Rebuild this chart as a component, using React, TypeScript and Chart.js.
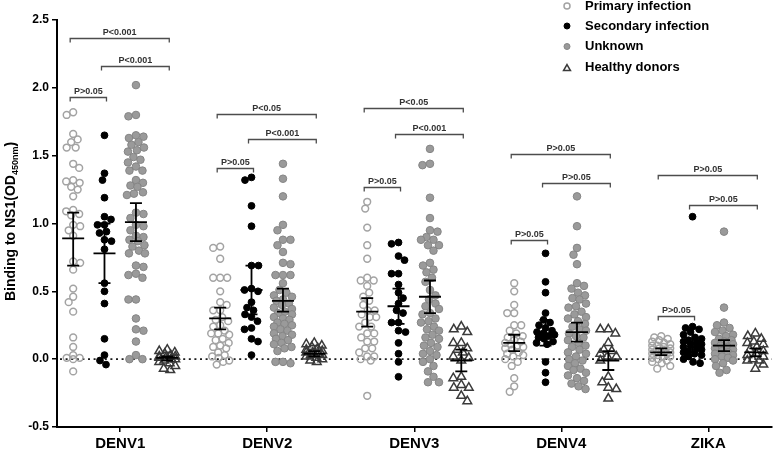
import React, { useEffect, useRef } from 'react';
import { Chart, registerables } from 'chart.js';

Chart.register(...registerables);

const FONT = '"Liberation Sans", Arial, Helvetica, sans-serif';

const categories = ['DENV1', 'DENV2', 'DENV3', 'DENV4', 'ZIKA'];
const seriesLabels = ['Primary infection', 'Secondary infection', 'Unknown', 'Healthy donors'];
const yTickValues = [-0.5, 0, 0.5, 1, 1.5, 2, 2.5];

// ---- individual values ----
const primaryDENV1 = [1.82, 1.8, 1.66, 1.62, 1.6, 1.56, 1.56, 1.44, 1.41, 1.32, 1.31, 1.3, 1.27, 1.25, 1.2, 1.1, 1.09, 1.07, 1.06, 0.99, 0.98, 0.95, 0.91, 0.72, 0.71, 0.66, 0.52, 0.46, 0.42, 0.35, 0.16, 0.09, 0.03, 0.01, 0.01, 0.0, -0.09];
const primaryDENV2 = [0.83, 0.82, 0.74, 0.6, 0.6, 0.6, 0.5, 0.42, 0.4, 0.36, 0.36, 0.31, 0.29, 0.28, 0.25, 0.24, 0.21, 0.19, 0.19, 0.18, 0.15, 0.14, 0.12, 0.1, 0.09, 0.08, 0.05, 0.03, 0.02, 0.01, -0.01, -0.02, -0.04];
const primaryDENV3 = [1.16, 1.11, 0.97, 0.84, 0.74, 0.6, 0.58, 0.58, 0.54, 0.49, 0.46, 0.43, 0.4, 0.36, 0.36, 0.33, 0.31, 0.31, 0.27, 0.24, 0.24, 0.19, 0.19, 0.16, 0.13, 0.13, 0.08, 0.08, 0.05, 0.02, 0.02, 0.0, -0.01, -0.27];
const primaryDENV4 = [0.56, 0.5, 0.4, 0.34, 0.34, 0.25, 0.25, 0.21, 0.19, 0.17, 0.16, 0.14, 0.13, 0.12, 0.11, 0.1, 0.09, 0.08, 0.07, 0.05, 0.04, 0.03, 0.02, 0.0, -0.02, -0.05, -0.14, -0.2, -0.24];
const primaryZIKA = [0.17, 0.16, 0.15, 0.14, 0.13, 0.12, 0.11, 0.1, 0.1, 0.09, 0.08, 0.08, 0.07, 0.06, 0.06, 0.05, 0.05, 0.04, 0.04, 0.03, 0.02, 0.02, 0.01, 0.0, -0.01, -0.02, -0.03, -0.05, -0.07];

const secondaryDENV1 = [1.65, 1.37, 1.32, 1.19, 1.05, 1.03, 0.99, 0.99, 0.94, 0.93, 0.88, 0.87, 0.81, 0.56, 0.5, 0.41, 0.15, 0.03, -0.01, -0.04];
const secondaryDENV2 = [1.34, 1.32, 1.13, 0.98, 0.69, 0.69, 0.52, 0.51, 0.5, 0.42, 0.38, 0.36, 0.33, 0.31, 0.28, 0.23, 0.22, 0.15, 0.13, 0.03];
const secondaryDENV3 = [0.86, 0.85, 0.76, 0.73, 0.63, 0.63, 0.55, 0.49, 0.45, 0.41, 0.36, 0.34, 0.27, 0.27, 0.21, 0.2, 0.12, 0.04, -0.02, -0.13];
const secondaryDENV4 = [0.78, 0.57, 0.49, 0.34, 0.29, 0.27, 0.25, 0.23, 0.21, 0.2, 0.19, 0.18, 0.17, 0.16, 0.15, 0.13, 0.12, 0.11, -0.02, -0.1, -0.17];
const secondaryZIKA = [1.05, 0.24, 0.23, 0.22, 0.2, 0.18, 0.16, 0.15, 0.14, 0.13, 0.12, 0.11, 0.1, 0.09, 0.08, 0.07, 0.06, 0.05, 0.04, 0.03, 0.02, 0.0, -0.02, -0.03];

const unknownDENV1 = [2.02, 1.8, 1.79, 1.65, 1.64, 1.63, 1.6, 1.58, 1.56, 1.54, 1.53, 1.49, 1.47, 1.45, 1.42, 1.39, 1.39, 1.32, 1.3, 1.28, 1.27, 1.23, 1.22, 1.21, 1.08, 1.07, 1.04, 0.99, 0.98, 0.95, 0.91, 0.9, 0.88, 0.87, 0.84, 0.83, 0.8, 0.78, 0.78, 0.69, 0.68, 0.63, 0.62, 0.6, 0.44, 0.44, 0.3, 0.22, 0.21, 0.13, 0.03, 0.0, 0.0];
const unknownDENV2 = [1.44, 1.33, 1.2, 0.99, 0.95, 0.88, 0.88, 0.84, 0.79, 0.71, 0.7, 0.62, 0.62, 0.62, 0.56, 0.51, 0.49, 0.47, 0.46, 0.44, 0.43, 0.41, 0.4, 0.38, 0.37, 0.35, 0.34, 0.33, 0.31, 0.3, 0.29, 0.27, 0.26, 0.25, 0.24, 0.22, 0.21, 0.19, 0.18, 0.17, 0.15, 0.14, 0.12, 0.11, 0.09, 0.08, 0.06, -0.02, -0.03, -0.02];
const unknownDENV3 = [1.55, 1.44, 1.43, 1.19, 1.04, 0.95, 0.94, 0.9, 0.88, 0.88, 0.84, 0.84, 0.8, 0.71, 0.69, 0.66, 0.64, 0.6, 0.57, 0.51, 0.47, 0.44, 0.41, 0.39, 0.37, 0.34, 0.33, 0.3, 0.28, 0.27, 0.24, 0.22, 0.21, 0.18, 0.16, 0.15, 0.12, 0.1, 0.09, 0.06, 0.04, 0.03, 0.0, -0.02, -0.05, -0.09, -0.13, -0.17, -0.17];
const unknownDENV4 = [1.2, 0.98, 0.82, 0.77, 0.7, 0.56, 0.54, 0.52, 0.49, 0.47, 0.45, 0.44, 0.41, 0.39, 0.38, 0.35, 0.33, 0.31, 0.3, 0.28, 0.26, 0.24, 0.22, 0.21, 0.19, 0.17, 0.16, 0.14, 0.12, 0.1, 0.09, 0.07, 0.05, 0.04, 0.02, 0.0, -0.01, -0.03, -0.05, -0.07, -0.08, -0.1, -0.12, -0.14, -0.16, -0.18, -0.2, -0.22];
const unknownZIKA = [0.94, 0.38, 0.27, 0.25, 0.23, 0.21, 0.2, 0.18, 0.17, 0.15, 0.14, 0.13, 0.12, 0.11, 0.1, 0.09, 0.08, 0.07, 0.06, 0.05, 0.04, 0.03, 0.02, 0.01, 0.0, -0.01, -0.03, -0.05, -0.08, -0.1];

const healthyDENV1 = [0.07, 0.06, 0.05, 0.04, 0.03, 0.02, 0.02, 0.01, 0.01, 0.0, 0.0, -0.01, -0.02, -0.03, -0.05, -0.07, -0.08];
const healthyDENV2 = [0.12, 0.11, 0.1, 0.09, 0.08, 0.07, 0.06, 0.05, 0.05, 0.04, 0.03, 0.03, 0.02, 0.01, 0.0, -0.01, -0.02];
const healthyDENV3 = [0.24, 0.22, 0.2, 0.12, 0.12, 0.08, 0.07, 0.05, 0.02, 0.01, -0.01, -0.13, -0.14, -0.19, -0.21, -0.21, -0.27, -0.31];
const healthyDENV4 = [0.22, 0.22, 0.19, 0.12, 0.07, 0.06, 0.04, 0.02, 0.02, -0.01, -0.13, -0.17, -0.21, -0.22, -0.29];
const healthyZIKA = [0.19, 0.17, 0.15, 0.13, 0.12, 0.11, 0.09, 0.07, 0.06, 0.04, 0.03, 0.02, 0.0, -0.01, -0.01, -0.04, -0.07];

// ---- mean and error bar limits per category ----
const primaryMean = [0.89, 0.3, 0.35, 0.12, 0.05];
const primaryLow = [0.69, 0.22, 0.24, 0.06, 0.03];
const primaryHigh = [1.08, 0.38, 0.45, 0.18, 0.08];
const secondaryMean = [0.78, 0.51, 0.39, 0.19, 0.12];
const secondaryLow = [0.56, 0.33, 0.26, 0.1, 0.05];
const secondaryHigh = [1.0, 0.69, 0.52, 0.29, 0.23];
const unknownMean = [1.01, 0.43, 0.46, 0.2, 0.1];
const unknownLow = [0.87, 0.35, 0.34, 0.13, 0.06];
const unknownHigh = [1.15, 0.52, 0.58, 0.27, 0.14];
const healthyMean = [0.01, 0.04, -0.01, -0.01, 0.05];
const healthyLow = [-0.01, 0.02, -0.09, -0.08, 0.02];
const healthyHigh = [0.02, 0.06, 0.07, 0.06, 0.08];

// ---- significance brackets ----
const bracketLowY = [1.93, 1.41, 1.27, 0.88, 0.32];
const bracketMidY = [2.16, 1.62, 1.66, 1.3, 1.14];
const bracketTopY = [2.37, 1.81, 1.85, 1.51, 1.36];
const bracketLowLabel = ['P>0.05', 'P>0.05', 'P>0.05', 'P>0.05', 'P>0.05'];
const bracketMidLabel = ['P<0.001', 'P<0.001', 'P<0.001', 'P>0.05', 'P>0.05'];
const bracketTopLabel = ['P<0.001', 'P<0.05', 'P<0.05', 'P>0.05', 'P>0.05'];

const seriesValues = [
  [primaryDENV1, primaryDENV2, primaryDENV3, primaryDENV4, primaryZIKA],
  [secondaryDENV1, secondaryDENV2, secondaryDENV3, secondaryDENV4, secondaryZIKA],
  [unknownDENV1, unknownDENV2, unknownDENV3, unknownDENV4, unknownZIKA],
  [healthyDENV1, healthyDENV2, healthyDENV3, healthyDENV4, healthyZIKA],
];
const seriesMean = [primaryMean, secondaryMean, unknownMean, healthyMean];
const seriesLow = [primaryLow, secondaryLow, unknownLow, healthyLow];
const seriesHigh = [primaryHigh, secondaryHigh, unknownHigh, healthyHigh];

// ---- styles / layout ----
const seriesOffset = [-0.32, -0.107, 0.107, 0.32];
const swarmDiameter = [7, 7, 7.5, 8];
const swarmHalfWidth = [9, 9, 9, 8];
const seriesStyle = [
  { pointStyle: 'circle', radius: 3.4, bg: 'rgba(255,255,255,0)', border: '#a3a3a3', bw: 1.5 },
  { pointStyle: 'circle', radius: 3.4, bg: '#000000', border: '#000000', bw: 1 },
  { pointStyle: 'circle', radius: 3.8, bg: '#9a9a9a', border: '#858585', bw: 1 },
  { pointStyle: 'triangle', radius: 5, bg: 'rgba(255,255,255,0)', border: '#3a3a3a', bw: 1.5 },
];

// deterministic beeswarm: nearest free slot to the centre, overlapping when the band is full
function swarmOffsets(py: number[], D: number, maxHalf: number): number[] {
  const idx = py.map((_, i) => i).sort((a, b) => py[a] - py[b]);
  const px: number[] = [];
  const pyPlaced: number[] = [];
  const out: number[] = new Array(py.length).fill(0);
  let flip = 1;
  for (const i of idx) {
    const y = py[i];
    let best = 0;
    let bestCost = Infinity;
    for (let c = -maxHalf; c <= maxHalf + 1e-9; c += 0.5) {
      let cost = 0;
      for (let k = 0; k < px.length; k++) {
        const dy = pyPlaced[k] - y;
        if (Math.abs(dy) >= D) continue;
        const dx = c - px[k];
        const dist = Math.sqrt(dx * dx + dy * dy);
        if (dist < D) cost += (D - dist) * (D - dist);
      }
      cost += 0.002 * Math.abs(c) + 1e-5 * c * flip;
      if (cost < bestCost) {
        bestCost = cost;
        best = c;
      }
    }
    if (best !== 0) flip = -flip;
    out[i] = best;
    px.push(best);
    pyPlaced.push(y);
  }
  return out;
}

function drawMarker(ctx: CanvasRenderingContext2D, style: string, x: number, y: number, r: number, bg: string, border: string, bw: number) {
  ctx.save();
  ctx.beginPath();
  if (style === 'triangle') {
    for (let k = 0; k < 3; k++) {
      const a = (k * 2 * Math.PI) / 3;
      const vx = x + Math.sin(a) * r;
      const vy = y - Math.cos(a) * r;
      if (k === 0) ctx.moveTo(vx, vy);
      else ctx.lineTo(vx, vy);
    }
    ctx.closePath();
  } else {
    ctx.arc(x, y, r, 0, Math.PI * 2);
  }
  ctx.fillStyle = bg;
  ctx.fill();
  ctx.lineWidth = bw;
  ctx.strokeStyle = border;
  ctx.stroke();
  ctx.restore();
}

const decorPlugin = {
  id: 'decor',
  beforeDatasetsDraw(chart: any) {
    const { ctx, chartArea } = chart;
    const ys = chart.scales.y;
    const y0 = ys.getPixelForValue(0);
    ctx.save();
    ctx.strokeStyle = '#1a1a1a';
    ctx.lineWidth = 1.8;
    ctx.setLineDash([2, 3.6]);
    ctx.beginPath();
    ctx.moveTo(chartArea.left + 3, y0);
    ctx.lineTo(chartArea.right, y0);
    ctx.stroke();
    ctx.restore();
  },
  afterDatasetsDraw(chart: any) {
    const { ctx } = chart;
    const xs = chart.scales.x;
    const ys = chart.scales.y;
    // error bars
    ctx.save();
    ctx.strokeStyle = '#000';
    ctx.lineWidth = 1.8;
    for (let s = 0; s < 4; s++) {
      for (let g = 0; g < categories.length; g++) {
        const cx = xs.getPixelForValue(g + seriesOffset[s]);
        const ym = ys.getPixelForValue(seriesMean[s][g]);
        const yl = ys.getPixelForValue(seriesLow[s][g]);
        const yh = ys.getPixelForValue(seriesHigh[s][g]);
        ctx.beginPath();
        ctx.moveTo(cx - 11, ym);
        ctx.lineTo(cx + 11, ym);
        ctx.moveTo(cx, yl);
        ctx.lineTo(cx, yh);
        ctx.moveTo(cx - 6, yl);
        ctx.lineTo(cx + 6, yl);
        ctx.moveTo(cx - 6, yh);
        ctx.lineTo(cx + 6, yh);
        ctx.stroke();
      }
    }
    ctx.restore();
    // brackets
    ctx.save();
    ctx.strokeStyle = '#4d4d4d';
    ctx.lineWidth = 1.3;
    ctx.fillStyle = '#333';
    ctx.font = `bold 9px ${FONT}`;
    ctx.textAlign = 'center';
    ctx.textBaseline = 'alphabetic';
    const drawBracket = (g: number, a: number, b: number, yv: number, label: string) => {
      const x1 = xs.getPixelForValue(g + seriesOffset[a]) - 3;
      const x2 = xs.getPixelForValue(g + seriesOffset[b]) + 2;
      const y = Math.round(ys.getPixelForValue(yv)) + 0.5;
      ctx.beginPath();
      ctx.moveTo(x1, y + 4);
      ctx.lineTo(x1, y);
      ctx.lineTo(x2, y);
      ctx.lineTo(x2, y + 4);
      ctx.stroke();
      ctx.fillText(label, (x1 + x2) / 2, y - 4);
    };
    for (let g = 0; g < categories.length; g++) {
      drawBracket(g, 0, 1, bracketLowY[g], bracketLowLabel[g]);
      drawBracket(g, 1, 3, bracketMidY[g], bracketMidLabel[g]);
      drawBracket(g, 0, 3, bracketTopY[g], bracketTopLabel[g]);
    }
    ctx.restore();
  },
  afterDraw(chart: any) {
    const { ctx, chartArea } = chart;
    // legend
    const legendRows = [6, 26, 46.5, 67.5];
    ctx.save();
    ctx.font = `bold 13px ${FONT}`;
    ctx.fillStyle = '#000';
    ctx.textAlign = 'left';
    ctx.textBaseline = 'middle';
    for (let s = 0; s < 4; s++) {
      const st = seriesStyle[s];
      drawMarker(ctx, st.pointStyle, 567, legendRows[s] + (s === 3 ? 1 : 0), st.pointStyle === 'triangle' ? 4 : 3, st.bg, st.border, st.bw);
      ctx.fillText(seriesLabels[s], 585, legendRows[s]);
    }
    ctx.restore();
    // y title with subscript
    ctx.save();
    const cy = (chartArea.top + chartArea.bottom) / 2 - 2;
    const main = 'Binding to NS1(OD';
    const sub = '450nm';
    const close = ')';
    ctx.font = `bold 14px ${FONT}`;
    const wMain = ctx.measureText(main).width;
    const wClose = ctx.measureText(close).width;
    ctx.font = `bold 9px ${FONT}`;
    const wSub = ctx.measureText(sub).width;
    const total = wMain + wSub + wClose;
    ctx.translate(15, cy);
    ctx.rotate(-Math.PI / 2);
    ctx.fillStyle = '#000';
    ctx.textAlign = 'left';
    ctx.textBaseline = 'alphabetic';
    let x = -total / 2;
    ctx.font = `bold 14px ${FONT}`;
    ctx.fillText(main, x, 0);
    x += wMain;
    ctx.font = `bold 9px ${FONT}`;
    ctx.fillText(sub, x, 2.5);
    x += wSub;
    ctx.font = `bold 14px ${FONT}`;
    ctx.fillText(close, x, 0);
    ctx.restore();
  },
};

export default function App() {
  const canvasRef = useRef<HTMLCanvasElement | null>(null);

  useEffect(() => {
    const canvas = canvasRef.current;
    if (!canvas) return;
    const datasets = seriesLabels.map((label, s) => ({
      label,
      data: seriesValues[s].flatMap((vals, g) => vals.map((v) => ({ x: g + seriesOffset[s], y: v }))),
      pointStyle: seriesStyle[s].pointStyle as any,
      pointRadius: seriesStyle[s].radius,
      pointBackgroundColor: seriesStyle[s].bg,
      pointBorderColor: seriesStyle[s].border,
      pointBorderWidth: seriesStyle[s].bw,
      backgroundColor: seriesStyle[s].bg,
      borderColor: seriesStyle[s].border,
      showLine: false,
      clip: false as any,
    }));

    const chart = new Chart(canvas, {
      type: 'scatter',
      data: { datasets },
      plugins: [decorPlugin],
      options: {
        animation: false,
        responsive: false,
        events: [],
        layout: { padding: { top: 20, right: 1, bottom: 0, left: 0 } },
        plugins: {
          legend: { display: false },
          tooltip: { enabled: false },
          title: { display: false },
        },
        scales: {
          x: {
            type: 'linear',
            min: -0.43,
            max: 4.43,
            afterBuildTicks: (scale: any) => {
              scale.ticks = categories.map((_, i) => ({ value: i }));
            },
            afterFit: (scale: any) => {
              scale.height = 22;
            },
            ticks: {
              autoSkip: false,
              maxRotation: 0,
              padding: 3,
              color: '#000',
              font: { family: FONT, size: 15, weight: 'bold' },
              callback: (v: any) => categories[Math.round(Number(v))] ?? '',
            },
            grid: { drawOnChartArea: false, drawTicks: true, tickLength: 5, color: '#000', lineWidth: 1.5 },
            border: { display: true, color: '#000', width: 2 },
          },
          y: {
            type: 'linear',
            min: -0.5,
            max: 2.5,
            afterBuildTicks: (scale: any) => {
              scale.ticks = yTickValues.map((v) => ({ value: v }));
            },
            afterFit: (scale: any) => {
              scale.width = 57;
            },
            ticks: {
              padding: 3,
              color: '#000',
              font: { family: FONT, size: 12, weight: 'bold' },
              callback: (v: any) => Number(v).toFixed(1),
            },
            grid: { drawOnChartArea: false, drawTicks: true, tickLength: 5, color: '#000', lineWidth: 1.5 },
            border: { display: true, color: '#000', width: 2 },
          },
        },
      },
    });

    // beeswarm spreading computed in pixel space from the chart's own scales
    const xs: any = chart.scales.x;
    const ys: any = chart.scales.y;
    const pxPerUnit = xs.getPixelForValue(1) - xs.getPixelForValue(0);
    seriesValues.forEach((byGroup, s) => {
      const pts: { x: number; y: number }[] = [];
      byGroup.forEach((vals, g) => {
        const py = vals.map((v) => ys.getPixelForValue(v));
        const dx = swarmOffsets(py, swarmDiameter[s], swarmHalfWidth[s]);
        vals.forEach((v, i) => pts.push({ x: g + seriesOffset[s] + dx[i] / pxPerUnit, y: v }));
      });
      (chart.data.datasets[s] as any).data = pts;
    });
    chart.update();

    return () => chart.destroy();
  }, []);

  return (
    <div style={{ position: 'absolute', left: 0, top: 0, width: 778, height: 449, background: '#fff' }}>
      <canvas ref={canvasRef} width={778} height={449} />
    </div>
  );
}
